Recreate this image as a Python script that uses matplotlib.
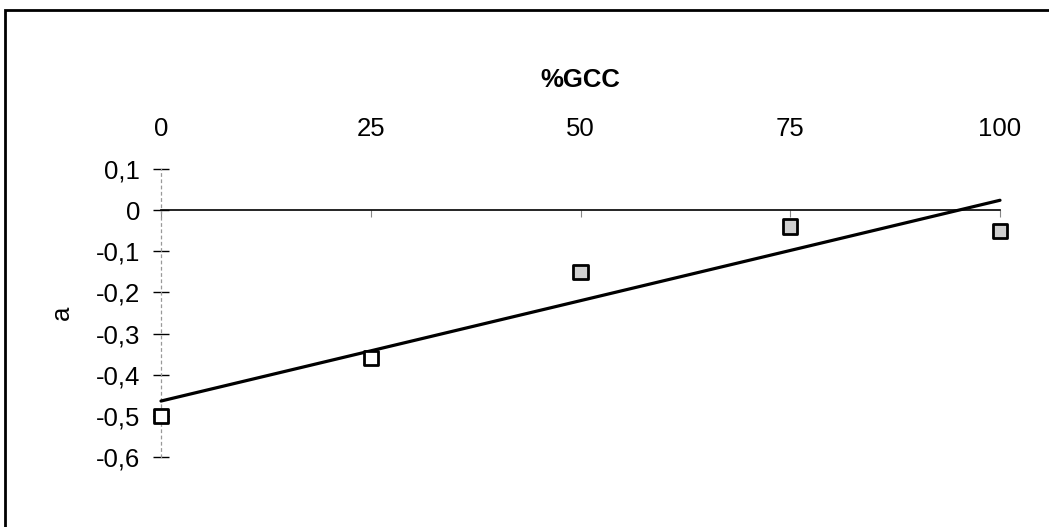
import numpy as np
import matplotlib
matplotlib.use("Agg")
import matplotlib.pyplot as plt
from matplotlib.patches import Rectangle

plt.rcParams['font.family'] = ['Liberation Sans', 'DejaVu Sans']

# %GCC content and measured coefficient a
gcc = [0, 25, 50, 75, 100]
a_vals = [-0.50, -0.36, -0.15, -0.04, -0.05]
marker_faces = ['white', 'white', '#cfcfcf', '#cfcfcf', '#cfcfcf']
x_ticks = [0, 25, 50, 75, 100]
y_ticks = [0.1, 0, -0.1, -0.2, -0.3, -0.4, -0.5, -0.6]
y_tick_labels = ['0,1', '0', '-0,1', '-0,2', '-0,3', '-0,4', '-0,5', '-0,6']

W, H = 1049, 527
fig = plt.figure(figsize=(W / 100, H / 100), dpi=100)
fig.patch.set_facecolor('white')

# outer chart border (right and bottom run past the page edge)
fig.patches.append(Rectangle((5 / W, -0.05), 1.1, (H - 10) / H + 0.05,
                             transform=fig.transFigure, fill=False,
                             edgecolor='black', linewidth=2.0))

ax = fig.add_axes([161 / W, (H - 457) / H, (1000 - 161) / W, (457 - 169) / H])
ax.set_xlim(0, 100)
ax.set_ylim(-0.6, 0.1)

# linear trend line
slope, intercept = np.polyfit(gcc, a_vals, 1)
xs = np.array([gcc[0], gcc[-1]])
ax.plot(xs, slope * xs + intercept, color='black', linewidth=2.3,
        solid_capstyle='round', clip_on=False, zorder=3)

ax.scatter(gcc, a_vals, marker='s', s=105, facecolors=marker_faces,
           edgecolors='black', linewidths=2.0, clip_on=False, zorder=4)

# axes styling: x axis crosses at a = 0, labels on top
for side in ['top', 'right']:
    ax.spines[side].set_visible(False)
ax.spines['bottom'].set_position(('data', 0))
ax.spines['bottom'].set_linewidth(1.2)
ax.spines['left'].set_linestyle((0, (2, 3)))
ax.spines['left'].set_color('#999999')
ax.spines['left'].set_linewidth(0.9)

ax.set_xticks(x_ticks)
ax.set_xticklabels([str(v) for v in x_ticks])
ax.tick_params(axis='x', bottom=True, top=False, labelbottom=False,
               labeltop=True, direction='out', length=5, width=0.8,
               color='#888888', labelsize=18.5, pad=15)

ax.set_yticks(y_ticks)
ax.set_yticklabels(y_tick_labels)
ax.tick_params(axis='y', direction='inout', length=12, width=1.0,
               color='black', labelsize=18.5, pad=9)

ax.set_xlabel('%GCC', fontsize=18.5, fontweight='bold', labelpad=22)
ax.xaxis.set_label_position('top')
ax.set_ylabel('a', fontsize=18.5, labelpad=16)

fig.savefig('out.png', dpi=100, facecolor='white')
